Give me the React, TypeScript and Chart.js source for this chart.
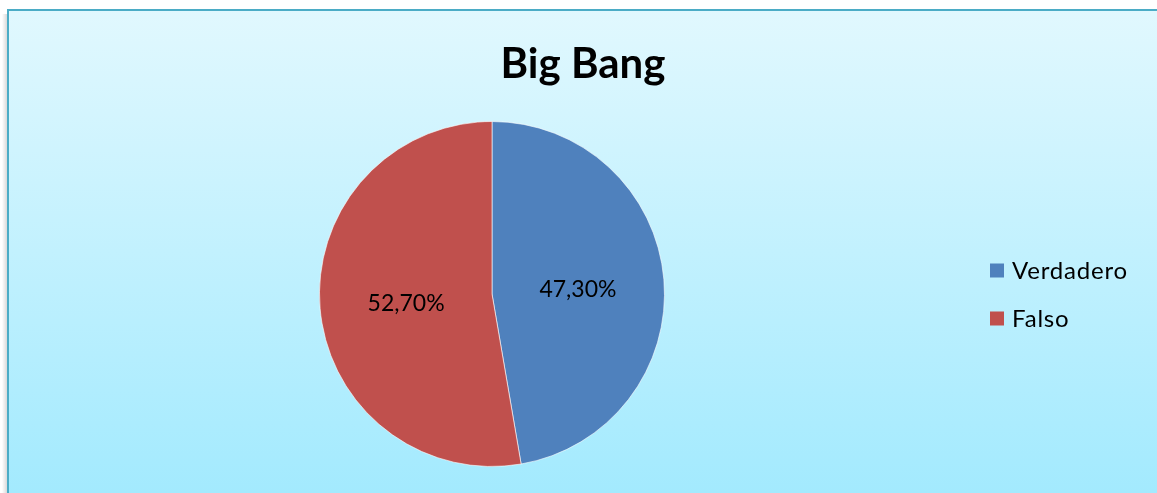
import React, { useEffect, useRef } from "react";
import { Chart, registerables } from "chart.js";

Chart.register(...registerables);

const titleText = "Big Bang";
const categories = ["Verdadero", "Falso"];
const values = [47.3, 52.7];
const valueLabels = ["47,30%", "52,70%"];
const colors = ["#4F81BD", "#C0504D"];

const W = 1157;
const H = 493;
const FONT = "Lato, 'Open Sans', sans-serif";

const backgroundPlugin = {
  id: "bgFrame",
  beforeDraw(chart: any) {
    const ctx = chart.ctx;
    ctx.save();
    const x0 = 8, y0 = 10;
    const g = ctx.createLinearGradient(0, y0, 0, H);
    g.addColorStop(0, "#E1F8FE");
    g.addColorStop(1, "#A3EAFE");
    const sg = ctx.createLinearGradient(x0 - 6, 0, x0, 0);
    sg.addColorStop(0, "rgba(0,0,0,0)");
    sg.addColorStop(1, "rgba(0,0,0,0.18)");
    ctx.fillStyle = sg;
    ctx.fillRect(x0 - 6, y0 + 4, 6, H);
    ctx.fillStyle = g;
    ctx.fillRect(x0, y0, W, H);
    ctx.strokeStyle = "#4BACC6";
    ctx.lineWidth = 2;
    ctx.beginPath();
    ctx.moveTo(x0, H + 2);
    ctx.lineTo(x0, y0);
    ctx.lineTo(W + 2, y0);
    ctx.stroke();
    ctx.restore();
  },
};

const overlayPlugin = {
  id: "overlay",
  afterDraw(chart: any) {
    const ctx = chart.ctx;
    ctx.save();
    ctx.fillStyle = "#000";
    ctx.font = `bold 42px ${FONT}`;
    ctx.textAlign = "center";
    ctx.textBaseline = "alphabetic";
    ctx.fillText(titleText, 583, 78);
    const meta = chart.getDatasetMeta(0);
    ctx.font = `23px ${FONT}`;
    meta.data.forEach((arc: any, i: number) => {
      const p = arc.getCenterPoint();
      ctx.fillText(valueLabels[i], p.x, p.y + 10);
    });
    ctx.textAlign = "left";
    ctx.font = `24px ${FONT}`;
    try { (ctx as any).letterSpacing = "0.8px"; } catch (e) {}
    categories.forEach((c, i) => {
      const cy = 270.5 + i * 48;
      ctx.fillStyle = colors[i];
      ctx.fillRect(990, cy - 7, 14, 14);
      ctx.fillStyle = "#000";
      ctx.fillText(c, 1012, cy + 8);
    });
    ctx.restore();
  },
};

export default function App() {
  const ref = useRef<HTMLCanvasElement>(null);
  useEffect(() => {
    document.documentElement.style.overflow = "hidden";
    document.body.style.margin = "0";
    if (!ref.current) return;
    const chart = new Chart(ref.current, {
      type: "pie",
      data: {
        labels: categories,
        datasets: [
          {
            data: values,
            backgroundColor: colors,
            borderColor: "rgba(255,255,255,0.6)",
            borderWidth: 1,
          },
        ],
      },
      options: {
        animation: false,
        responsive: false,
        rotation: 0,
        layout: { padding: { left: 319, right: W - 665, top: 121, bottom: H - 467 } },
        plugins: {
          legend: { display: false },
          title: { display: false },
          tooltip: { enabled: false },
        },
      },
      plugins: [backgroundPlugin, overlayPlugin],
    });
    return () => chart.destroy();
  }, []);
  return (
    <div style={{ position: "fixed", left: 0, top: 0, width: W, height: H, overflow: "hidden" }}>
      <canvas ref={ref} width={W} height={H} style={{ width: W, height: H, display: "block" }} />
    </div>
  );
}
